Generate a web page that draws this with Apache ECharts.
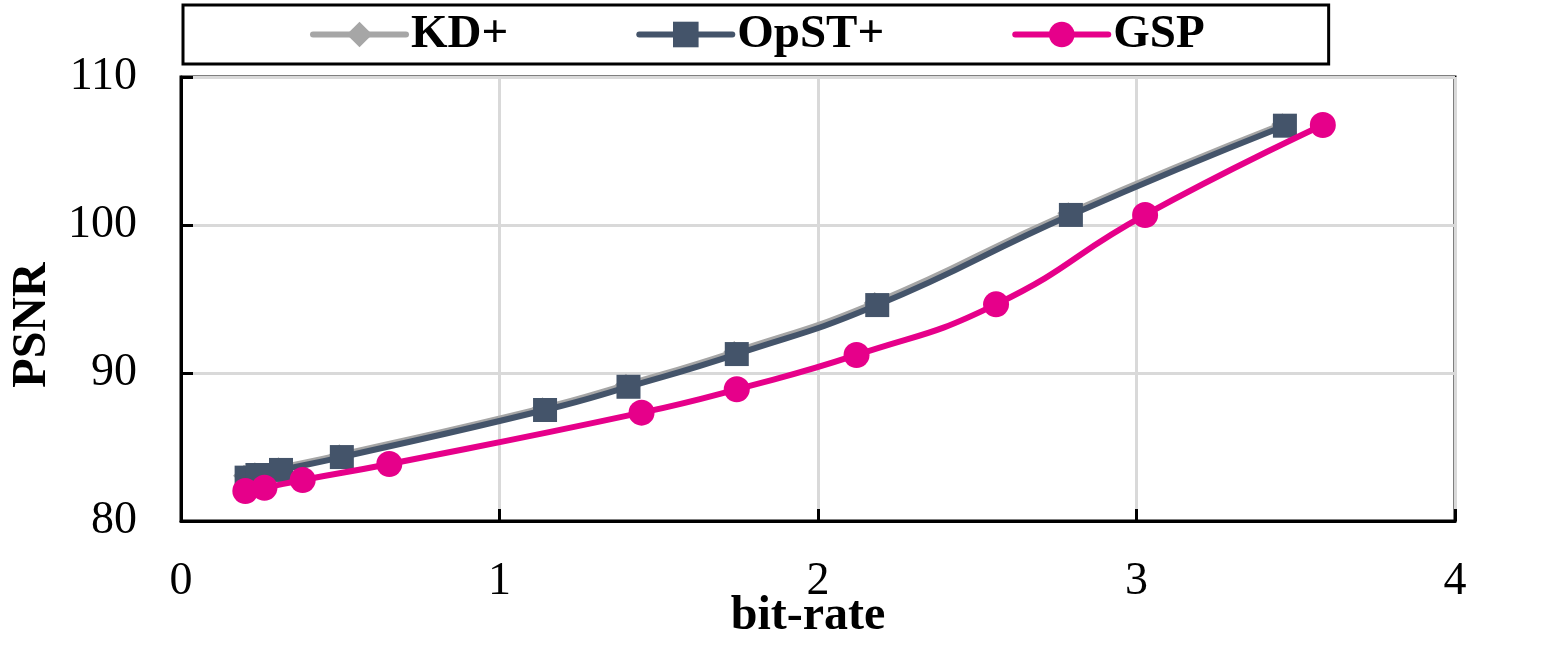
<!DOCTYPE html>
<html>
<head>
<meta charset="utf-8">
<script src="https://cdn.jsdelivr.net/npm/echarts@6/dist/echarts.min.js"></script>
<style>html,body{margin:0;padding:0;background:#fff}#c{width:1561px;height:651px}</style>
</head>
<body>
<div id="c"></div>
<script>
const seriesNames = ['KD+', 'OpST+', 'GSP'];
const kdX   = [0.198, 0.232, 0.306, 0.497, 1.135, 1.397, 1.737, 2.178, 2.786, 3.458];
const kdY   = [83.05, 83.22, 83.57, 84.45, 87.62, 89.2, 91.42, 94.73, 100.8, 106.8];
const opstX = [0.206, 0.240, 0.314, 0.505, 1.143, 1.405, 1.745, 2.186, 2.794, 3.466];
const opstY = [82.93, 83.11, 83.45, 84.32, 87.50, 89.07, 91.28, 94.59, 100.68, 106.71];
const gspX  = [0.202, 0.262, 0.382, 0.654, 1.446, 1.745, 2.121, 2.559, 3.027, 3.585];
const gspY  = [82.03, 82.25, 82.77, 83.85, 87.32, 88.90, 91.22, 94.64, 100.68, 106.76];
const xTicks = [0, 1, 2, 3, 4];
const yTicks = [80, 90, 100, 110];

const pair = (xs, ys) => xs.map((x, i) => [x, ys[i]]);
const FONT = '"Liberation Serif", "Times New Roman", serif';

const chart = echarts.init(document.getElementById('c'), null, {renderer: 'canvas'});
chart.setOption({
  animation: false,
  backgroundColor: '#fff',
  grid: {left: 181, right: 106, top: 77, bottom: 130, show: true, borderColor: '#000', borderWidth: 3,
         backgroundColor: 'transparent', containLabel: false, outerBoundsMode: 'none'},
  legend: {
    data: seriesNames,
    left: 183, top: 5,
    padding: [6, 124, 6, 127],
    borderColor: '#000', borderWidth: 3,
    itemGap: 128,
    itemWidth: 93, itemHeight: 32,
    lineStyle: {width: 6, cap: 'round'},
    textStyle: {fontFamily: FONT, fontWeight: 'bold', fontSize: 47, color: '#000'}
  },
  xAxis: {
    type: 'value', min: xTicks[0], max: xTicks[xTicks.length - 1], interval: 1,
    name: 'bit-rate', nameLocation: 'middle', nameGap: 72, nameMoveOverlap: false,
    nameTextStyle: {fontFamily: FONT, fontWeight: 'bold', fontSize: 48, color: '#000', padding: [0, 20, 0, 0]},
    axisLine: {show: true, lineStyle: {color: '#000', width: 3}},
    axisTick: {show: true, inside: true, length: 12, lineStyle: {color: '#000', width: 3}},
    axisLabel: {fontFamily: FONT, fontSize: 46, color: '#000', margin: 38},
    splitLine: {show: true, lineStyle: {color: '#d9d9d9', width: 3}}
  },
  yAxis: {
    type: 'value', min: yTicks[0], max: yTicks[yTicks.length - 1], interval: 10,
    name: 'PSNR', nameLocation: 'middle', nameGap: 124, nameRotate: 90, nameMoveOverlap: false,
    nameTextStyle: {fontFamily: FONT, fontWeight: 'bold', fontSize: 48, color: '#000', padding: [0, 52, 0, 0]},
    axisLine: {show: true, lineStyle: {color: '#000', width: 3}},
    axisTick: {show: true, inside: true, length: 12, lineStyle: {color: '#000', width: 3}},
    axisLabel: {fontFamily: FONT, fontSize: 46, color: '#000', margin: 44},
    splitLine: {show: true, lineStyle: {color: '#d9d9d9', width: 3}}
  },
  series: [
    {name: seriesNames[0], type: 'line', smooth: true, data: pair(kdX, kdY),
     symbol: 'diamond', symbolSize: 22, z: 2,
     itemStyle: {color: '#a6a6a6'}, lineStyle: {color: '#a6a6a6', width: 6}},
    {name: seriesNames[1], type: 'line', smooth: true, data: pair(opstX, opstY),
     symbol: 'rect', symbolSize: 24, z: 3,
     itemStyle: {color: '#44546a'}, lineStyle: {color: '#44546a', width: 6}},
    {name: seriesNames[2], type: 'line', smooth: true, data: pair(gspX, gspY),
     symbol: 'circle', symbolSize: 26, z: 4,
     itemStyle: {color: '#e6008a'}, lineStyle: {color: '#e6008a', width: 6}}
  ]
});
</script>
</body>
</html>
